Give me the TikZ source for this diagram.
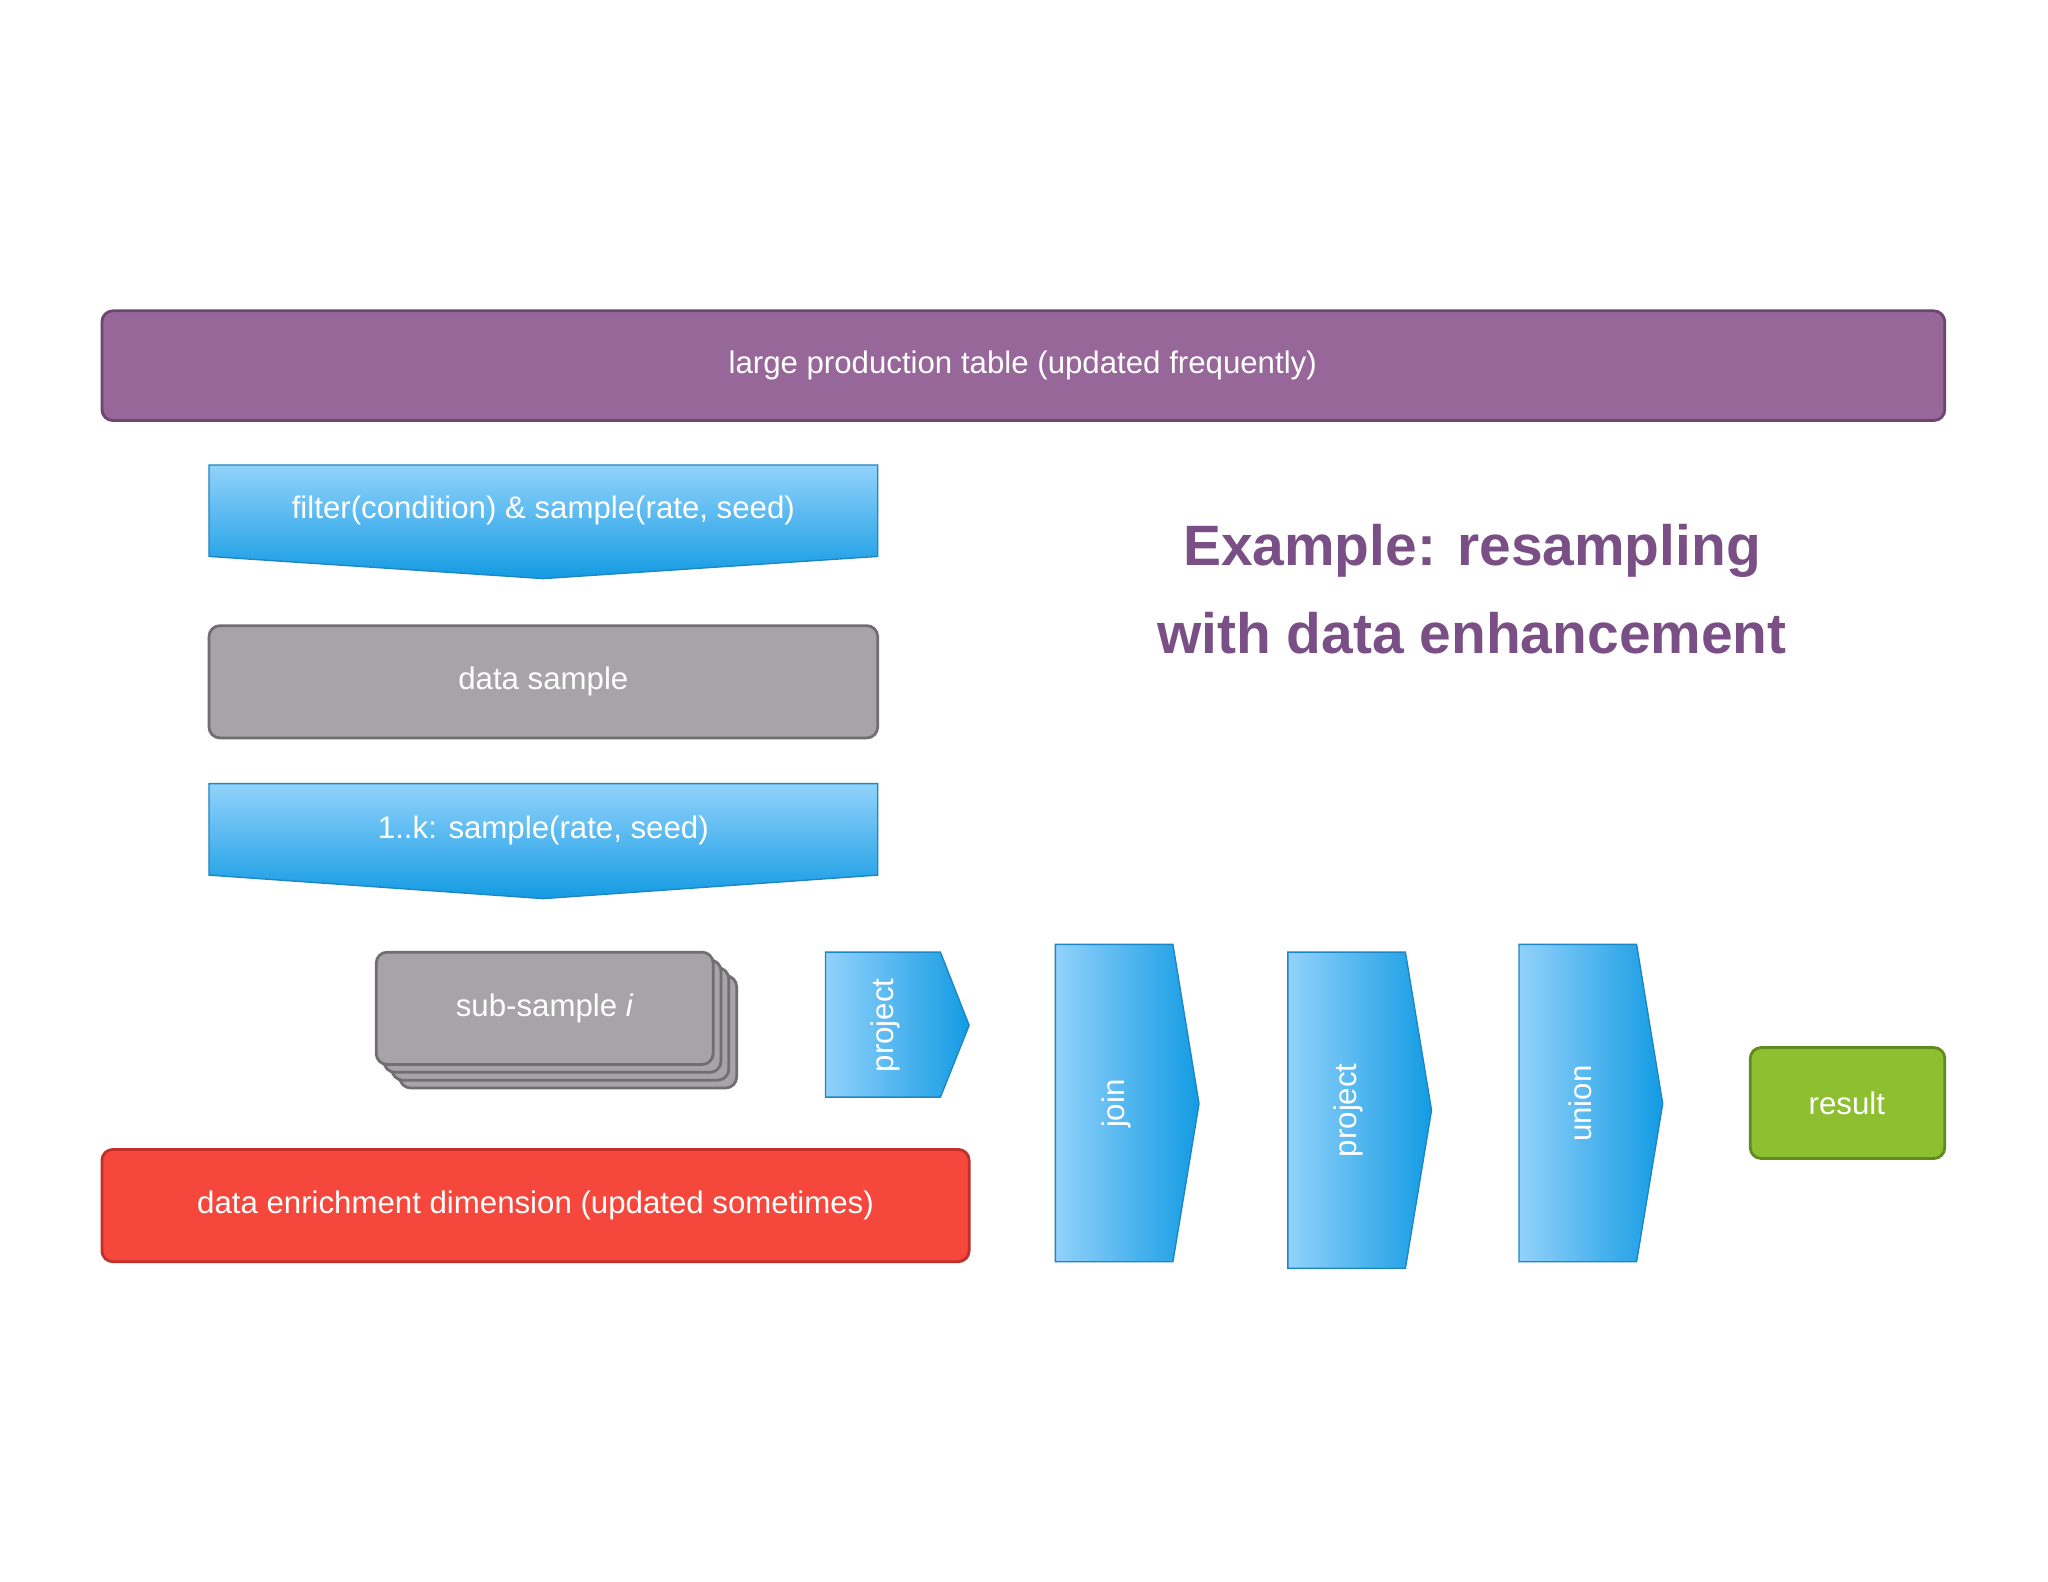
\documentclass[tikz,border=0pt]{standalone}
\usepackage{fontspec}
\setmainfont{Liberation Sans}
\begin{document}
\definecolor{purp}{HTML}{986799}
\definecolor{purpdk}{HTML}{6E4470}
\definecolor{titlec}{HTML}{7A4F86}
\definecolor{bluelt}{HTML}{92D2FB}
\definecolor{bluedk}{HTML}{139BE3}
\definecolor{blueln}{HTML}{1D86C4}
\definecolor{grayf}{HTML}{A6A4A7}
\definecolor{grayln}{HTML}{6F6E70}
\definecolor{redf}{HTML}{F5473B}
\definecolor{redln}{HTML}{C0302A}
\definecolor{greenf}{HTML}{8DBF31}
\definecolor{greenln}{HTML}{5F8A1F}
\begin{tikzpicture}[x=0.05cm,y=-0.05cm,
  lbl/.style={text=white,font=\fontsize{34}{40}\selectfont},
  box/.style={rounded corners=12pt,line width=3pt},
  down/.style={top color=bluelt,bottom color=bluedk,draw=blueln,line width=1.5pt},
  right/.style={left color=bluelt,right color=bluedk,draw=blueln,line width=1.5pt}]
\useasboundingbox (0,0) rectangle (1568,1211);
% top table
\draw[box,fill=purp,draw=purpdk] (78,238) rectangle (1489,322);
\node[lbl] (tbl) at (783,280) {large production table (updated frequently)};
% filter chevron
\path[down] (160,356) -- (672,356) -- (672,426) -- (416,443) -- (160,426) -- cycle;
\node[lbl] (filt) at (416,391) {filter(condition) \& sample(rate, seed)};
% data sample
\draw[box,fill=grayf,draw=grayln] (160,479) rectangle (672,565);
\node[lbl] (ds) at (416,522) {data sample};
% resample chevron
\path[down] (160,600) -- (672,600) -- (672,670) -- (416,688) -- (160,670) -- cycle;
\node[lbl] (rs) at (416,636) {1..k: sample(rate, seed)};
% sub-sample stack
\foreach \d in {18,12,6}
  \draw[box,fill=grayf,draw=grayln] (288+\d,729+\d) rectangle (546+\d,815+\d);
\draw[box,fill=grayf,draw=grayln] (288,729) rectangle (546,815);
\node[lbl] (sub) at (417,772) {sub-sample \textit{i}};
% operator arrows
\path[right] (632,729) -- (720,729) -- (742,785) -- (720,840) -- (632,840) -- cycle;
\node[lbl,rotate=90] (p1) at (678,785) {project};
\path[right] (808,723) -- (898,723) -- (918,845) -- (898,966) -- (808,966) -- cycle;
\node[lbl,rotate=90] (jn) at (855,845) {join};
\path[right] (986,729) -- (1076,729) -- (1096,850) -- (1076,971) -- (986,971) -- cycle;
\node[lbl,rotate=90] (p2) at (1032,850) {project};
\path[right] (1163,723) -- (1253,723) -- (1273,845) -- (1253,966) -- (1163,966) -- cycle;
\node[lbl,rotate=90] (un) at (1210,845) {union};
% result
\draw[box,fill=greenf,draw=greenln] (1340,802) rectangle (1489,887);
\node[lbl] (res) at (1414,845) {result};
% enrichment
\draw[box,fill=redf,draw=redln] (78,880) rectangle (742,966);
\node[lbl] (enr) at (410,923) {data enrichment dimension (updated sometimes)};
% title
\node[text=titlec,font=\bfseries\fontsize{62}{96}\selectfont,align=center] (title) at (1127,451)
  {Example: resampling\\with data enhancement};
\end{tikzpicture}
\end{document}
